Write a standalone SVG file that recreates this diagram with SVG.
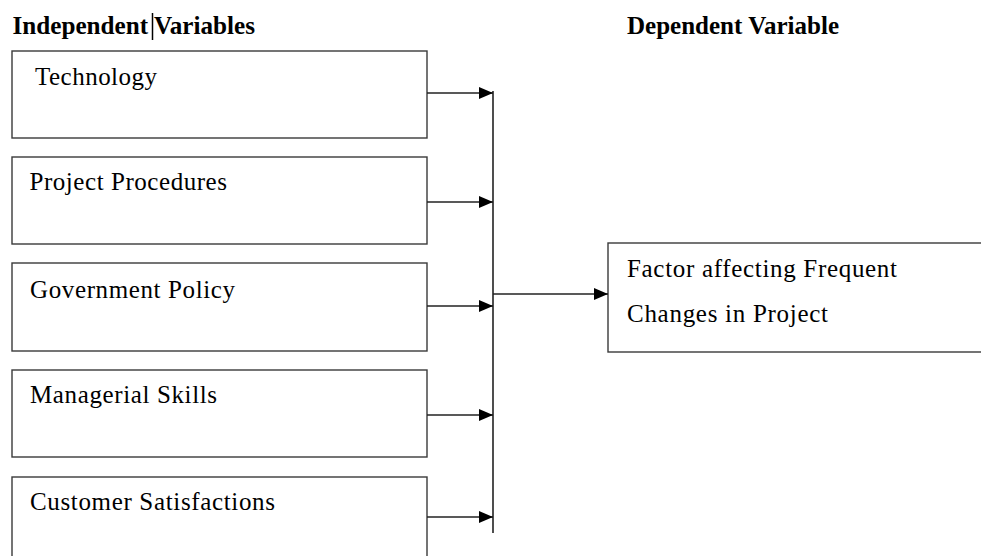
<svg xmlns="http://www.w3.org/2000/svg" width="981" height="556" viewBox="0 0 981 556">
<style>
.box{fill:#fff;stroke:#3a3a3a;stroke-width:1.4}
.t{font-family:"Liberation Serif","Times New Roman",serif;font-size:25px;fill:#000}
.h{font-family:"Liberation Serif","Times New Roman",serif;font-size:25px;font-weight:bold;fill:#000}
.c{fill:none;stroke:#222;stroke-width:1.6}
</style>
<defs>
<marker id="ah" markerWidth="14" markerHeight="12" refX="14" refY="6" orient="auto" markerUnits="userSpaceOnUse">
<path d="M0,0 L14,6 L0,12 Z" fill="#000"/>
</marker>
</defs>
<rect width="981" height="556" fill="#fff"/>
<g id="headings">
<text class="h" x="12.5" y="34" textLength="242.5" lengthAdjust="spacingAndGlyphs">Independent Variables</text>
<line x1="152.5" y1="13" x2="152.5" y2="40" stroke="#000" stroke-width="1.5"/>
<text class="h" x="627" y="34" textLength="212" lengthAdjust="spacingAndGlyphs">Dependent Variable</text>
</g>
<g id="n-technology">
<rect class="box" x="12" y="51" width="415" height="87"/>
<text class="t" x="35" y="85" textLength="122" lengthAdjust="spacing">Technology</text>
</g>
<g id="n-procedures">
<rect class="box" x="12" y="157" width="415" height="87"/>
<text class="t" x="29.5" y="190" textLength="197.5" lengthAdjust="spacing">Project Procedures</text>
</g>
<g id="n-policy">
<rect class="box" x="12" y="263" width="415" height="88"/>
<text class="t" x="30" y="298" textLength="205" lengthAdjust="spacing">Government Policy</text>
</g>
<g id="n-skills">
<rect class="box" x="12" y="370" width="415" height="87"/>
<text class="t" x="30" y="403" textLength="187" lengthAdjust="spacing">Managerial Skills</text>
</g>
<g id="n-satisfaction">
<rect class="box" x="12" y="477" width="415" height="90"/>
<text class="t" x="30" y="509.5" textLength="245" lengthAdjust="spacing">Customer Satisfactions</text>
</g>
<g id="n-dependent">
<rect class="box" x="608" y="243" width="380" height="109"/>
<text class="t" x="627" y="277" textLength="270" lengthAdjust="spacing">Factor affecting Frequent</text>
<text class="t" x="627" y="322" textLength="201" lengthAdjust="spacing">Changes in Project</text>
</g>
<g id="connectors">
<line class="c" x1="493" y1="91" x2="493" y2="533"/>
<line class="c" x1="427" y1="93" x2="493" y2="93" marker-end="url(#ah)"/>
<line class="c" x1="427" y1="202" x2="493" y2="202" marker-end="url(#ah)"/>
<line class="c" x1="427" y1="306" x2="493" y2="306" marker-end="url(#ah)"/>
<line class="c" x1="427" y1="415" x2="493" y2="415" marker-end="url(#ah)"/>
<line class="c" x1="427" y1="517" x2="493" y2="517" marker-end="url(#ah)"/>
<line class="c" x1="493" y1="294" x2="608" y2="294" marker-end="url(#ah)"/>
</g>
</svg>
